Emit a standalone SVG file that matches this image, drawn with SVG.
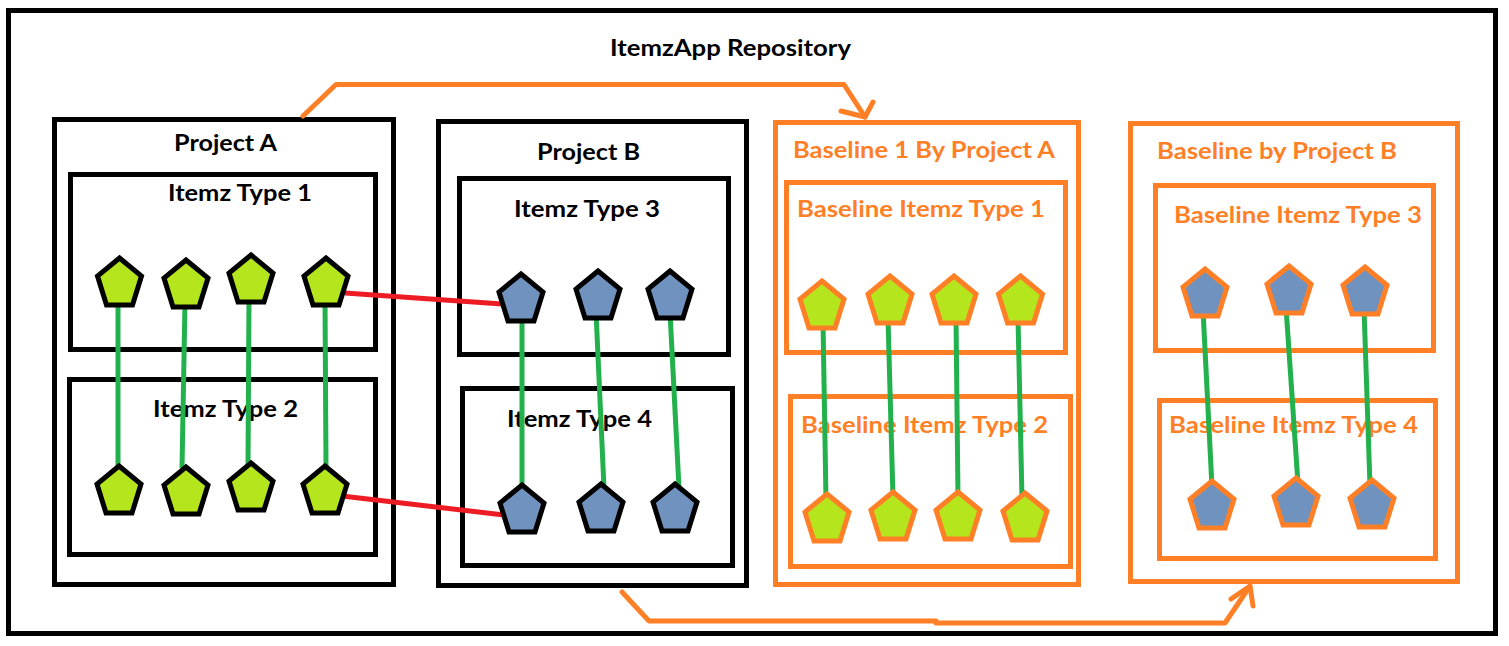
<svg xmlns="http://www.w3.org/2000/svg" xmlns:xlink="http://www.w3.org/1999/xlink" width="1509" height="646" viewBox="0 0 1509 646">
<style>
.bk{fill:none;stroke:#000;stroke-width:5}
.or{fill:none;stroke:#FF7F27;stroke-width:5}
.t{font-family:Lato,"Open Sans",sans-serif;font-weight:700;font-size:23px;fill:#000}
.to{font-family:Lato,"Open Sans",sans-serif;font-weight:700;font-size:23px;fill:#FF7F27}
.g{stroke:#22B14C;stroke-width:5;fill:none;stroke-linecap:butt}
.r{stroke:#ED1C24;stroke-width:5;fill:none}
.oa{stroke:#FF7F27;stroke-width:5;fill:none;stroke-linejoin:round;stroke-linecap:round}
.pg{fill:#B5E61D;stroke:#000;stroke-width:5;stroke-linejoin:miter}
.pb{fill:#7092BE;stroke:#000;stroke-width:5;stroke-linejoin:miter}
.pgo{fill:#B5E61D;stroke:#FF7F27;stroke-width:5;stroke-linejoin:miter}
.pbo{fill:#7092BE;stroke:#FF7F27;stroke-width:5;stroke-linejoin:miter}
</style>
<defs>
<path id="pent" d="M0,-24 L22,-6 L13,23 L-13,23 L-22,-6 Z"/>
</defs>
<rect width="1509" height="646" fill="#fff"/>
<g id="repository">
<rect class="bk" x="8.5" y="10.5" width="1487" height="623"/>
<text class="t" x="610" y="56" textLength="241" lengthAdjust="spacingAndGlyphs">ItemzApp Repository</text>
</g>
<g id="projectA">
<rect class="bk" x="54.5" y="119.5" width="339" height="465"/>
<text class="t" x="174" y="151" textLength="103" lengthAdjust="spacingAndGlyphs">Project A</text>
</g>
<g id="itemzType1">
<rect class="bk" x="70.5" y="174.5" width="305" height="175"/>
<text class="t" x="168" y="201" textLength="144" lengthAdjust="spacingAndGlyphs">Itemz Type 1</text>
</g>
<g id="itemzType2">
<rect class="bk" x="69.5" y="379.5" width="306" height="175"/>
<text class="t" x="153" y="417" textLength="145" lengthAdjust="spacingAndGlyphs">Itemz Type 2</text>
</g>
<g id="projectB">
<rect class="bk" x="438.5" y="121.5" width="308" height="464"/>
<text class="t" x="537" y="160" textLength="103" lengthAdjust="spacingAndGlyphs">Project B</text>
</g>
<g id="itemzType3">
<rect class="bk" x="459.5" y="178.5" width="269" height="176"/>
<text class="t" x="514" y="217" textLength="146" lengthAdjust="spacingAndGlyphs">Itemz Type 3</text>
</g>
<g id="itemzType4">
<rect class="bk" x="462.5" y="388.5" width="270" height="177"/>
<text class="t" x="507" y="427" textLength="145" lengthAdjust="spacingAndGlyphs">Itemz Type 4</text>
</g>
<g id="baseline1ByProjectA">
<rect class="or" x="775.5" y="122.5" width="303" height="462"/>
<text class="to" x="793" y="158" textLength="262" lengthAdjust="spacingAndGlyphs">Baseline 1 By Project A</text>
</g>
<g id="baselineItemzType1">
<rect class="or" x="786.5" y="182.5" width="279" height="170"/>
<text class="to" x="797" y="217" textLength="248" lengthAdjust="spacingAndGlyphs">Baseline Itemz Type 1</text>
</g>
<g id="baselineItemzType2">
<rect class="or" x="790.5" y="396.5" width="280" height="170"/>
<text class="to" x="801" y="433" textLength="247" lengthAdjust="spacingAndGlyphs">Baseline Itemz Type 2</text>
</g>
<g id="baselineByProjectB">
<rect class="or" x="1130.5" y="123.5" width="327" height="458"/>
<text class="to" x="1157" y="159" textLength="240" lengthAdjust="spacingAndGlyphs">Baseline by Project B</text>
</g>
<g id="baselineItemzType3">
<rect class="or" x="1155.5" y="185.5" width="278" height="165"/>
<text class="to" x="1174" y="223" textLength="248" lengthAdjust="spacingAndGlyphs">Baseline Itemz Type 3</text>
</g>
<g id="baselineItemzType4">
<rect class="or" x="1159.5" y="400.5" width="276" height="158"/>
<text class="to" x="1169" y="433" textLength="249" lengthAdjust="spacingAndGlyphs">Baseline Itemz Type 4</text>
</g>
<g id="connectors">
<path class="g" d="M118,300 L118,468"/>
<path class="g" d="M185,302 L182,468"/>
<path class="g" d="M249,298 L248,465"/>
<path class="g" d="M325,300 L326,468"/>
<path class="g" d="M522,315 L522,490"/>
<path class="g" d="M596,312 L604,488"/>
<path class="g" d="M670,312 L679,488"/>
<path class="g" d="M823,322 L826,500"/>
<path class="g" d="M888,318 L893,498"/>
<path class="g" d="M956,318 L958,498"/>
<path class="g" d="M1018,318 L1022,499"/>
<path class="g" d="M1203,310 L1212,487"/>
<path class="g" d="M1286,307 L1298,484"/>
<path class="g" d="M1364,308 L1370,486"/>
<path class="r" d="M345,293 L502,304"/>
<path class="r" d="M342,496 L504,515"/>
<path class="oa" d="M303,116 L336,84.5 L844,84.5 L865,117"/>
<path class="oa" d="M873,102 L865,117 L841,111"/>
<path class="oa" d="M622,592 L649,621 L936,621 L936,623 L1225,623 L1250,586"/>
<path class="oa" d="M1231,599 L1250,586 L1253,606"/>
</g>
<g id="items">
<use xlink:href="#pent" class="pg" x="119.5" y="282"/>
<use xlink:href="#pent" class="pg" x="186" y="284"/>
<use xlink:href="#pent" class="pg" x="251" y="279"/>
<use xlink:href="#pent" class="pg" x="326" y="282"/>
<use xlink:href="#pent" class="pg" x="119" y="490"/>
<use xlink:href="#pent" class="pg" x="186" y="491"/>
<use xlink:href="#pent" class="pg" x="251" y="487"/>
<use xlink:href="#pent" class="pg" x="325" y="490"/>
<use xlink:href="#pent" class="pb" x="521" y="298"/>
<use xlink:href="#pent" class="pb" x="598" y="295"/>
<use xlink:href="#pent" class="pb" x="670" y="295"/>
<use xlink:href="#pent" class="pb" x="522" y="509"/>
<use xlink:href="#pent" class="pb" x="601" y="508"/>
<use xlink:href="#pent" class="pb" x="675" y="508"/>
<use xlink:href="#pent" class="pgo" x="822" y="305"/>
<use xlink:href="#pent" class="pgo" x="890" y="300"/>
<use xlink:href="#pent" class="pgo" x="954" y="300"/>
<use xlink:href="#pent" class="pgo" x="1020.5" y="300"/>
<use xlink:href="#pent" class="pgo" x="827" y="518"/>
<use xlink:href="#pent" class="pgo" x="893" y="516"/>
<use xlink:href="#pent" class="pgo" x="958" y="516"/>
<use xlink:href="#pent" class="pgo" x="1025" y="517"/>
<use xlink:href="#pent" class="pbo" x="1205" y="293"/>
<use xlink:href="#pent" class="pbo" x="1289" y="290"/>
<use xlink:href="#pent" class="pbo" x="1365" y="291"/>
<use xlink:href="#pent" class="pbo" x="1212" y="505"/>
<use xlink:href="#pent" class="pbo" x="1296" y="502"/>
<use xlink:href="#pent" class="pbo" x="1372" y="504"/>
</g>
</svg>
